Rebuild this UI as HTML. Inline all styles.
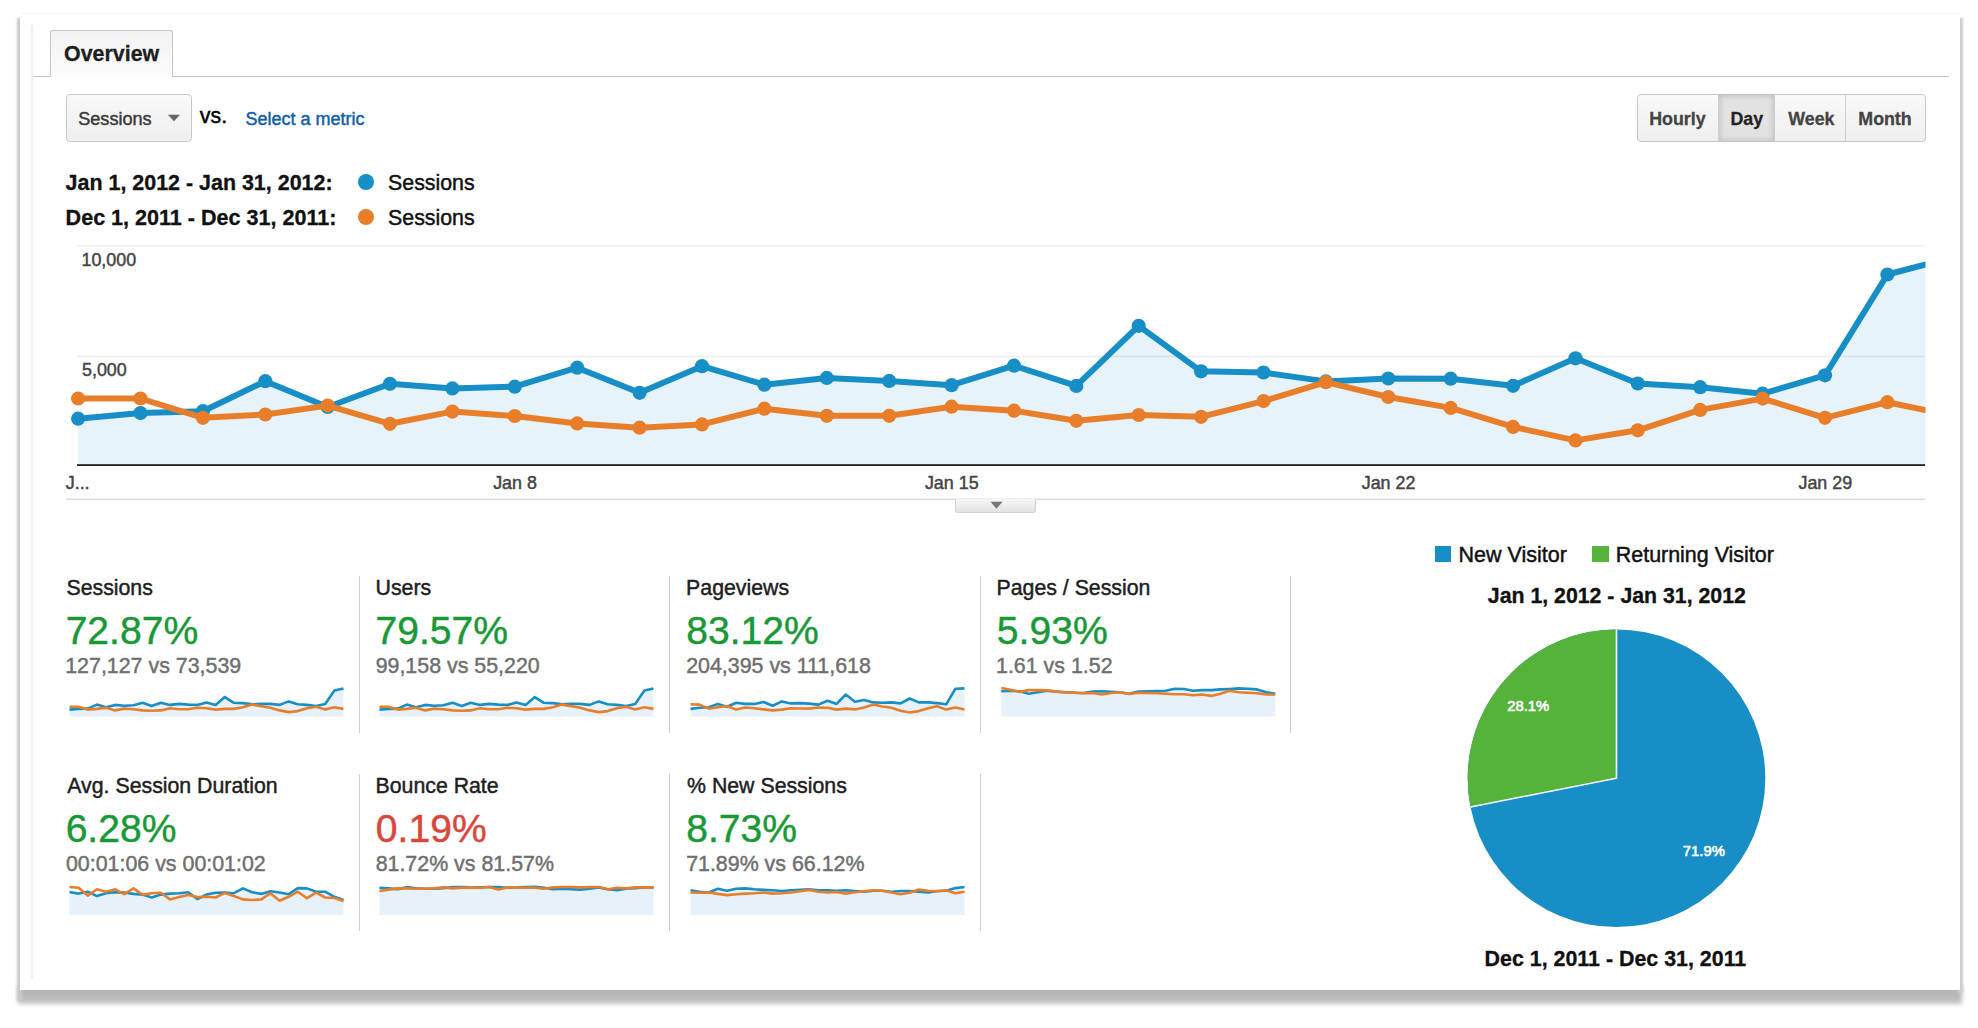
<!DOCTYPE html>
<html><head><meta charset="utf-8"><title>Overview</title><style>
*{margin:0;padding:0;box-sizing:border-box}
html,body{width:1978px;height:1028px;background:#fff;overflow:hidden;position:relative;font-family:"Liberation Sans",sans-serif}
.tx{position:absolute;left:0;top:0;font-family:"Liberation Sans",sans-serif}
#frame{position:absolute;left:20px;top:13px;width:1940px;height:977px;background:#fff;border-top:1px solid #f7f7f7}
#shB{position:absolute;left:18px;top:986px;width:1944px;height:17.5px;background:linear-gradient(#b4b4b4,#b9b9b9 60%,#c4c4c4);filter:blur(1.9px)}
#shL{position:absolute;left:17px;top:18px;width:5px;height:983px;background:#c9c9c9;filter:blur(1.2px)}
#shR{position:absolute;left:1958px;top:18px;width:5px;height:975px;background:#cdcdcd;filter:blur(1.2px)}
#tab{position:absolute;left:50px;top:30px;width:123px;height:47px;border:1px solid #c6c6c6;border-bottom:none;border-radius:3px 3px 0 0;background:linear-gradient(#f3f3f3,#fcfcfc)}
#dd{position:absolute;left:66px;top:94px;width:126px;height:47.5px;border:1px solid #c8c8c8;border-radius:4px;background:linear-gradient(#f9f9f9,#efefef)}
#btns{position:absolute;left:1636.5px;top:93.6px;width:289px;height:48px;border:1px solid #c6c6c6;border-radius:4px;display:flex;overflow:hidden;background:linear-gradient(#f9f9f9,#efefef)}
#btns .b{height:100%;border-right:1px solid #cfcfcf}
#btns .b.on{background:#e2e2e2;box-shadow:inset 0 0 6px rgba(0,0,0,.2)}
.dot{position:absolute;width:16.4px;height:16.4px;border-radius:50%}
#handle{position:absolute;left:955px;top:499px;width:80.5px;height:13.5px;border:1px solid #d2d2d2;border-top:none;border-radius:0 0 3px 3px;background:linear-gradient(#f6f6f6,#e4e4e4)}
</style></head>
<body>
<div id="shB"></div><div id="shL"></div><div id="shR"></div><div id="frame"></div>
<div style="position:absolute;left:31.2px;top:25px;width:2px;height:953px;background:#f0f0f0"></div>
<div style="position:absolute;left:33px;top:76px;width:1916px;height:1px;background:#c6c6c6"></div>
<div id="tab"></div>
<div id="dd"></div>
<svg style="position:absolute;left:167px;top:114px" width="14" height="9"><path d="M0.9 0.8 L13.0 0.8 L6.95 7.3 Z" fill="#666"/></svg>
<div id="btns"><div class="b" style="width:81px">&nbsp;</div><div class="b on" style="width:56px"></div><div class="b" style="width:71px"></div><div class="b" style="width:78px;border-right:none"></div></div>
<div class="dot" style="left:358px;top:173.5px;background:#188ec7"></div>
<div class="dot" style="left:358px;top:209px;background:#e97e2a"></div>
<svg style="position:absolute;left:0;top:0" width="1978" height="1028">
<defs><clipPath id="cc"><rect x="66" y="240" width="1859.5" height="226"/></clipPath></defs>
<g clip-path="url(#cc)">
<polygon points="78.1,465 78.1,418.7 140.5,413.1 202.9,411.2 265.3,381.2 327.7,407.0 390.0,383.8 452.4,388.4 514.8,386.7 577.2,367.7 639.6,392.8 702.0,366.2 764.4,384.7 826.8,377.9 889.2,380.9 951.6,385.2 1014.0,365.7 1076.3,385.9 1138.7,325.8 1201.1,371.3 1263.5,372.5 1325.9,381.4 1388.3,378.5 1450.7,378.7 1513.1,385.8 1575.5,358.3 1637.8,383.5 1700.2,387.2 1762.6,393.7 1825.0,375.3 1887.4,274.5 1949.8,258.2 1949.8,465" fill="#e6f3fa"/>
</g>
<rect x="77" y="245.2" width="1848" height="1.4" fill="#000" fill-opacity="0.065"/>
<rect x="77" y="355.8" width="1848" height="1.4" fill="#000" fill-opacity="0.075"/>
<g clip-path="url(#cc)">
<polyline points="78.1,418.7 140.5,413.1 202.9,411.2 265.3,381.2 327.7,407.0 390.0,383.8 452.4,388.4 514.8,386.7 577.2,367.7 639.6,392.8 702.0,366.2 764.4,384.7 826.8,377.9 889.2,380.9 951.6,385.2 1014.0,365.7 1076.3,385.9 1138.7,325.8 1201.1,371.3 1263.5,372.5 1325.9,381.4 1388.3,378.5 1450.7,378.7 1513.1,385.8 1575.5,358.3 1637.8,383.5 1700.2,387.2 1762.6,393.7 1825.0,375.3 1887.4,274.5 1949.8,258.2" fill="none" stroke="#188ec7" stroke-width="6" stroke-linejoin="round"/>
<circle cx="78.1" cy="418.7" r="7.1" fill="#188ec7"/>
<circle cx="140.5" cy="413.1" r="7.1" fill="#188ec7"/>
<circle cx="202.9" cy="411.2" r="7.1" fill="#188ec7"/>
<circle cx="265.3" cy="381.2" r="7.1" fill="#188ec7"/>
<circle cx="327.7" cy="407.0" r="7.1" fill="#188ec7"/>
<circle cx="390.0" cy="383.8" r="7.1" fill="#188ec7"/>
<circle cx="452.4" cy="388.4" r="7.1" fill="#188ec7"/>
<circle cx="514.8" cy="386.7" r="7.1" fill="#188ec7"/>
<circle cx="577.2" cy="367.7" r="7.1" fill="#188ec7"/>
<circle cx="639.6" cy="392.8" r="7.1" fill="#188ec7"/>
<circle cx="702.0" cy="366.2" r="7.1" fill="#188ec7"/>
<circle cx="764.4" cy="384.7" r="7.1" fill="#188ec7"/>
<circle cx="826.8" cy="377.9" r="7.1" fill="#188ec7"/>
<circle cx="889.2" cy="380.9" r="7.1" fill="#188ec7"/>
<circle cx="951.6" cy="385.2" r="7.1" fill="#188ec7"/>
<circle cx="1014.0" cy="365.7" r="7.1" fill="#188ec7"/>
<circle cx="1076.3" cy="385.9" r="7.1" fill="#188ec7"/>
<circle cx="1138.7" cy="325.8" r="7.1" fill="#188ec7"/>
<circle cx="1201.1" cy="371.3" r="7.1" fill="#188ec7"/>
<circle cx="1263.5" cy="372.5" r="7.1" fill="#188ec7"/>
<circle cx="1325.9" cy="381.4" r="7.1" fill="#188ec7"/>
<circle cx="1388.3" cy="378.5" r="7.1" fill="#188ec7"/>
<circle cx="1450.7" cy="378.7" r="7.1" fill="#188ec7"/>
<circle cx="1513.1" cy="385.8" r="7.1" fill="#188ec7"/>
<circle cx="1575.5" cy="358.3" r="7.1" fill="#188ec7"/>
<circle cx="1637.8" cy="383.5" r="7.1" fill="#188ec7"/>
<circle cx="1700.2" cy="387.2" r="7.1" fill="#188ec7"/>
<circle cx="1762.6" cy="393.7" r="7.1" fill="#188ec7"/>
<circle cx="1825.0" cy="375.3" r="7.1" fill="#188ec7"/>
<circle cx="1887.4" cy="274.5" r="7.1" fill="#188ec7"/>
<circle cx="1949.8" cy="258.2" r="7.1" fill="#188ec7"/>
<polyline points="78.1,398.5 140.5,398.5 202.9,417.8 265.3,414.5 327.7,405.6 390.0,423.8 452.4,411.6 514.8,416.0 577.2,423.4 639.6,427.7 702.0,424.4 764.4,408.7 826.8,415.8 889.2,415.8 951.6,406.7 1014.0,410.7 1076.3,420.8 1138.7,415.0 1201.1,416.8 1263.5,401.1 1325.9,382.2 1388.3,397.0 1450.7,407.9 1513.1,426.9 1575.5,440.4 1637.8,430.3 1700.2,409.9 1762.6,398.6 1825.0,417.8 1887.4,402.2 1949.8,415.2" fill="none" stroke="#e97e2a" stroke-width="6" stroke-linejoin="round"/>
<circle cx="78.1" cy="398.5" r="7.1" fill="#e97e2a"/>
<circle cx="140.5" cy="398.5" r="7.1" fill="#e97e2a"/>
<circle cx="202.9" cy="417.8" r="7.1" fill="#e97e2a"/>
<circle cx="265.3" cy="414.5" r="7.1" fill="#e97e2a"/>
<circle cx="327.7" cy="405.6" r="7.1" fill="#e97e2a"/>
<circle cx="390.0" cy="423.8" r="7.1" fill="#e97e2a"/>
<circle cx="452.4" cy="411.6" r="7.1" fill="#e97e2a"/>
<circle cx="514.8" cy="416.0" r="7.1" fill="#e97e2a"/>
<circle cx="577.2" cy="423.4" r="7.1" fill="#e97e2a"/>
<circle cx="639.6" cy="427.7" r="7.1" fill="#e97e2a"/>
<circle cx="702.0" cy="424.4" r="7.1" fill="#e97e2a"/>
<circle cx="764.4" cy="408.7" r="7.1" fill="#e97e2a"/>
<circle cx="826.8" cy="415.8" r="7.1" fill="#e97e2a"/>
<circle cx="889.2" cy="415.8" r="7.1" fill="#e97e2a"/>
<circle cx="951.6" cy="406.7" r="7.1" fill="#e97e2a"/>
<circle cx="1014.0" cy="410.7" r="7.1" fill="#e97e2a"/>
<circle cx="1076.3" cy="420.8" r="7.1" fill="#e97e2a"/>
<circle cx="1138.7" cy="415.0" r="7.1" fill="#e97e2a"/>
<circle cx="1201.1" cy="416.8" r="7.1" fill="#e97e2a"/>
<circle cx="1263.5" cy="401.1" r="7.1" fill="#e97e2a"/>
<circle cx="1325.9" cy="382.2" r="7.1" fill="#e97e2a"/>
<circle cx="1388.3" cy="397.0" r="7.1" fill="#e97e2a"/>
<circle cx="1450.7" cy="407.9" r="7.1" fill="#e97e2a"/>
<circle cx="1513.1" cy="426.9" r="7.1" fill="#e97e2a"/>
<circle cx="1575.5" cy="440.4" r="7.1" fill="#e97e2a"/>
<circle cx="1637.8" cy="430.3" r="7.1" fill="#e97e2a"/>
<circle cx="1700.2" cy="409.9" r="7.1" fill="#e97e2a"/>
<circle cx="1762.6" cy="398.6" r="7.1" fill="#e97e2a"/>
<circle cx="1825.0" cy="417.8" r="7.1" fill="#e97e2a"/>
<circle cx="1887.4" cy="402.2" r="7.1" fill="#e97e2a"/>
<circle cx="1949.8" cy="415.2" r="7.1" fill="#e97e2a"/>
</g>
<rect x="77" y="464.2" width="1848" height="1.8" fill="#222"/>
<rect x="66" y="498.6" width="1859" height="1.2" fill="#d4d4d4"/>
</svg>
<div id="handle"></div>
<svg style="position:absolute;left:990px;top:501px" width="14" height="9"><path d="M0.5 0.8 L12.5 0.8 L6.5 7.8 Z" fill="#777"/></svg>
<div style="position:absolute;left:358.7px;top:575.6px;width:1.2px;height:157px;background:#cfcfcf"></div>
<div style="position:absolute;left:669.2px;top:575.6px;width:1.2px;height:157px;background:#cfcfcf"></div>
<div style="position:absolute;left:979.7px;top:575.6px;width:1.2px;height:157px;background:#cfcfcf"></div>
<div style="position:absolute;left:1290.0px;top:575.6px;width:1.2px;height:157px;background:#cfcfcf"></div>
<div style="position:absolute;left:358.7px;top:774.2px;width:1.2px;height:157px;background:#cfcfcf"></div>
<div style="position:absolute;left:669.2px;top:774.2px;width:1.2px;height:157px;background:#cfcfcf"></div>
<div style="position:absolute;left:979.7px;top:774.2px;width:1.2px;height:157px;background:#cfcfcf"></div>
<svg style="position:absolute;left:0;top:0;filter:blur(0.35px)" width="1978" height="1028">
<polygon points="69.5,716.6 69.5,709.6 78.6,708.9 87.8,708.6 96.9,704.6 106.0,707.2 115.2,704.9 124.3,705.7 133.4,705.3 142.6,702.8 151.7,706.0 160.8,702.8 170.0,704.9 179.1,703.9 188.2,704.6 197.4,704.9 206.5,702.4 215.6,704.9 224.8,697.1 233.9,702.8 243.0,703.1 252.2,704.3 261.3,703.9 270.4,703.9 279.6,704.9 288.7,701.4 297.8,704.3 307.0,704.9 316.1,706.0 325.2,703.9 334.4,690.4 343.5,688.4 343.5,716.6" fill="#e6f1f9"/>
<polyline points="69.5,709.6 78.6,708.9 87.8,708.6 96.9,704.6 106.0,707.2 115.2,704.9 124.3,705.7 133.4,705.3 142.6,702.8 151.7,706.0 160.8,702.8 170.0,704.9 179.1,703.9 188.2,704.6 197.4,704.9 206.5,702.4 215.6,704.9 224.8,697.1 233.9,702.8 243.0,703.1 252.2,704.3 261.3,703.9 270.4,703.9 279.6,704.9 288.7,701.4 297.8,704.3 307.0,704.9 316.1,706.0 325.2,703.9 334.4,690.4 343.5,688.4" fill="none" stroke="#188ec7" stroke-width="2.6" stroke-linejoin="round"/>
<polyline points="69.5,706.7 78.6,706.7 87.8,709.6 96.9,708.9 106.0,707.8 115.2,710.4 124.3,708.6 133.4,709.2 142.6,710.4 151.7,710.8 160.8,710.4 170.0,708.2 179.1,709.2 188.2,709.2 197.4,707.8 206.5,708.2 215.6,709.6 224.8,708.9 233.9,708.9 243.0,707.2 252.2,704.6 261.3,706.3 270.4,707.8 279.6,710.4 288.7,712.1 297.8,711.1 307.0,708.2 316.1,706.7 325.2,709.6 334.4,707.2 343.5,708.9" fill="none" stroke="#e97e2a" stroke-width="2.6" stroke-linejoin="round"/>
<polygon points="379.5,716.6 379.5,709.6 388.6,708.9 397.8,708.6 406.9,704.6 416.0,707.2 425.2,704.9 434.3,705.7 443.4,705.3 452.6,702.8 461.7,706.0 470.8,702.8 480.0,704.9 489.1,703.9 498.2,704.6 507.4,704.9 516.5,702.4 525.6,704.9 534.8,697.1 543.9,702.8 553.0,703.1 562.2,704.3 571.3,703.9 580.4,703.9 589.6,704.9 598.7,701.4 607.8,704.3 617.0,704.9 626.1,706.0 635.2,703.9 644.4,690.4 653.5,688.4 653.5,716.6" fill="#e6f1f9"/>
<polyline points="379.5,709.6 388.6,708.9 397.8,708.6 406.9,704.6 416.0,707.2 425.2,704.9 434.3,705.7 443.4,705.3 452.6,702.8 461.7,706.0 470.8,702.8 480.0,704.9 489.1,703.9 498.2,704.6 507.4,704.9 516.5,702.4 525.6,704.9 534.8,697.1 543.9,702.8 553.0,703.1 562.2,704.3 571.3,703.9 580.4,703.9 589.6,704.9 598.7,701.4 607.8,704.3 617.0,704.9 626.1,706.0 635.2,703.9 644.4,690.4 653.5,688.4" fill="none" stroke="#188ec7" stroke-width="2.6" stroke-linejoin="round"/>
<polyline points="379.5,706.7 388.6,706.7 397.8,709.6 406.9,708.9 416.0,707.8 425.2,710.4 434.3,708.6 443.4,709.2 452.6,710.4 461.7,710.8 470.8,710.4 480.0,708.2 489.1,709.2 498.2,709.2 507.4,707.8 516.5,708.2 525.6,709.6 534.8,708.9 543.9,708.9 553.0,707.2 562.2,704.6 571.3,706.3 580.4,707.8 589.6,710.4 598.7,712.1 607.8,711.1 617.0,708.2 626.1,706.7 635.2,709.6 644.4,707.2 653.5,708.9" fill="none" stroke="#e97e2a" stroke-width="2.6" stroke-linejoin="round"/>
<polygon points="690.5,716.6 690.5,708.9 699.6,707.8 708.8,707.2 717.9,703.9 727.0,706.7 736.2,702.8 745.3,703.9 754.4,703.9 763.6,702.0 772.7,705.7 781.8,701.4 791.0,703.4 800.1,703.1 809.2,703.6 818.4,704.6 827.5,700.7 836.6,703.9 845.8,694.5 854.9,701.7 864.0,700.0 873.2,702.4 882.3,702.7 891.4,702.4 900.6,703.4 909.7,698.5 918.8,702.4 928.0,702.4 937.1,703.1 946.2,704.3 955.4,688.7 964.5,688.4 964.5,716.6" fill="#e6f1f9"/>
<polyline points="690.5,708.9 699.6,707.8 708.8,707.2 717.9,703.9 727.0,706.7 736.2,702.8 745.3,703.9 754.4,703.9 763.6,702.0 772.7,705.7 781.8,701.4 791.0,703.4 800.1,703.1 809.2,703.6 818.4,704.6 827.5,700.7 836.6,703.9 845.8,694.5 854.9,701.7 864.0,700.0 873.2,702.4 882.3,702.7 891.4,702.4 900.6,703.4 909.7,698.5 918.8,702.4 928.0,702.4 937.1,703.1 946.2,704.3 955.4,688.7 964.5,688.4" fill="none" stroke="#188ec7" stroke-width="2.6" stroke-linejoin="round"/>
<polyline points="690.5,704.3 699.6,704.6 708.8,708.6 717.9,707.2 727.0,706.0 736.2,709.6 745.3,707.5 754.4,708.2 763.6,709.4 772.7,710.4 781.8,709.6 791.0,708.2 800.1,708.5 809.2,708.6 818.4,707.5 827.5,707.8 836.6,709.6 845.8,708.6 854.9,709.4 864.0,707.5 873.2,704.6 882.3,706.5 891.4,707.8 900.6,710.7 909.7,712.5 918.8,711.1 928.0,708.2 937.1,706.3 946.2,709.6 955.4,707.5 964.5,709.4" fill="none" stroke="#e97e2a" stroke-width="2.6" stroke-linejoin="round"/>
<polygon points="1001.3,716.6 1001.3,691.3 1010.4,690.8 1019.6,691.3 1028.7,693.7 1037.8,692.3 1047.0,690.8 1056.1,691.6 1065.2,692.3 1074.4,692.7 1083.5,693.0 1092.6,691.6 1101.8,691.3 1110.9,691.9 1120.0,692.3 1129.2,693.7 1138.3,691.6 1147.4,691.3 1156.6,691.1 1165.7,690.8 1174.8,688.7 1184.0,689.0 1193.1,690.8 1202.2,690.1 1211.4,690.1 1220.5,689.4 1229.6,689.0 1238.8,688.4 1247.9,688.7 1257.0,689.4 1266.2,692.3 1275.3,693.7 1275.3,716.6" fill="#e6f1f9"/>
<polyline points="1001.3,691.3 1010.4,690.8 1019.6,691.3 1028.7,693.7 1037.8,692.3 1047.0,690.8 1056.1,691.6 1065.2,692.3 1074.4,692.7 1083.5,693.0 1092.6,691.6 1101.8,691.3 1110.9,691.9 1120.0,692.3 1129.2,693.7 1138.3,691.6 1147.4,691.3 1156.6,691.1 1165.7,690.8 1174.8,688.7 1184.0,689.0 1193.1,690.8 1202.2,690.1 1211.4,690.1 1220.5,689.4 1229.6,689.0 1238.8,688.4 1247.9,688.7 1257.0,689.4 1266.2,692.3 1275.3,693.7" fill="none" stroke="#188ec7" stroke-width="2.6" stroke-linejoin="round"/>
<polyline points="1001.3,688.0 1010.4,689.8 1019.6,691.9 1028.7,690.1 1037.8,690.1 1047.0,690.4 1056.1,691.6 1065.2,692.3 1074.4,692.7 1083.5,693.3 1092.6,693.0 1101.8,694.5 1110.9,693.0 1120.0,692.3 1129.2,694.0 1138.3,692.7 1147.4,693.0 1156.6,693.3 1165.7,693.7 1174.8,694.2 1184.0,694.2 1193.1,695.2 1202.2,694.5 1211.4,695.9 1220.5,693.7 1229.6,690.8 1238.8,692.3 1247.9,692.7 1257.0,693.3 1266.2,694.5 1275.3,694.5" fill="none" stroke="#e97e2a" stroke-width="2.6" stroke-linejoin="round"/>
<polygon points="69.5,915.0 69.5,892.0 78.6,893.6 87.8,891.7 96.9,896.1 106.0,893.2 115.2,892.2 124.3,892.5 133.4,893.9 142.6,894.6 151.7,897.5 160.8,894.6 170.0,893.6 179.1,893.2 188.2,892.2 197.4,899.0 206.5,894.6 215.6,892.7 224.8,892.5 233.9,893.2 243.0,888.4 252.2,892.2 261.3,893.9 270.4,891.3 279.6,892.5 288.7,894.2 297.8,888.1 307.0,888.4 316.1,891.7 325.2,891.7 334.4,896.8 343.5,900.0 343.5,915.0" fill="#e6f1f9"/>
<polyline points="69.5,892.0 78.6,893.6 87.8,891.7 96.9,896.1 106.0,893.2 115.2,892.2 124.3,892.5 133.4,893.9 142.6,894.6 151.7,897.5 160.8,894.6 170.0,893.6 179.1,893.2 188.2,892.2 197.4,899.0 206.5,894.6 215.6,892.7 224.8,892.5 233.9,893.2 243.0,888.4 252.2,892.2 261.3,893.9 270.4,891.3 279.6,892.5 288.7,894.2 297.8,888.1 307.0,888.4 316.1,891.7 325.2,891.7 334.4,896.8 343.5,900.0" fill="none" stroke="#188ec7" stroke-width="2.6" stroke-linejoin="round"/>
<polyline points="69.5,887.0 78.6,887.8 87.8,895.6 96.9,889.3 106.0,891.7 115.2,889.3 124.3,894.2 133.4,888.4 142.6,894.6 151.7,893.2 160.8,892.7 170.0,899.4 179.1,897.1 188.2,895.1 197.4,897.1 206.5,896.8 215.6,897.5 224.8,892.9 233.9,896.1 243.0,899.4 252.2,900.0 261.3,899.4 270.4,893.2 279.6,900.8 288.7,896.8 297.8,891.7 307.0,898.2 316.1,892.7 325.2,897.5 334.4,898.0 343.5,901.1" fill="none" stroke="#e97e2a" stroke-width="2.6" stroke-linejoin="round"/>
<polygon points="379.5,915.0 379.5,887.8 388.6,888.4 397.8,889.3 406.9,887.0 416.0,888.4 425.2,888.8 434.3,888.8 443.4,888.1 452.6,887.0 461.7,887.0 470.8,887.4 480.0,887.4 489.1,887.0 498.2,887.0 507.4,887.8 516.5,887.4 525.6,887.0 534.8,886.7 543.9,887.8 553.0,889.3 562.2,888.8 571.3,889.3 580.4,889.6 589.6,888.8 598.7,887.4 607.8,889.3 617.0,890.3 626.1,888.8 635.2,888.1 644.4,887.4 653.5,887.4 653.5,915.0" fill="#e6f1f9"/>
<polyline points="379.5,887.8 388.6,888.4 397.8,889.3 406.9,887.0 416.0,888.4 425.2,888.8 434.3,888.8 443.4,888.1 452.6,887.0 461.7,887.0 470.8,887.4 480.0,887.4 489.1,887.0 498.2,887.0 507.4,887.8 516.5,887.4 525.6,887.0 534.8,886.7 543.9,887.8 553.0,889.3 562.2,888.8 571.3,889.3 580.4,889.6 589.6,888.8 598.7,887.4 607.8,889.3 617.0,890.3 626.1,888.8 635.2,888.1 644.4,887.4 653.5,887.4" fill="none" stroke="#188ec7" stroke-width="2.6" stroke-linejoin="round"/>
<polyline points="379.5,891.0 388.6,889.6 397.8,888.4 406.9,888.4 416.0,888.8 425.2,888.8 434.3,888.4 443.4,887.4 452.6,888.4 461.7,887.7 470.8,887.4 480.0,887.8 489.1,887.0 498.2,889.6 507.4,887.4 516.5,887.4 525.6,887.7 534.8,887.8 543.9,888.8 553.0,887.4 562.2,887.0 571.3,887.0 580.4,887.4 589.6,887.0 598.7,887.0 607.8,889.3 617.0,887.8 626.1,888.4 635.2,887.4 644.4,887.4 653.5,887.4" fill="none" stroke="#e97e2a" stroke-width="2.6" stroke-linejoin="round"/>
<polygon points="690.5,915.0 690.5,890.3 699.6,891.7 708.8,892.5 717.9,888.8 727.0,890.7 736.2,888.8 745.3,888.4 754.4,889.3 763.6,889.9 772.7,890.3 781.8,891.0 791.0,890.3 800.1,889.9 809.2,889.3 818.4,890.3 827.5,890.3 836.6,890.7 845.8,890.3 854.9,891.0 864.0,891.7 873.2,890.7 882.3,890.7 891.4,891.7 900.6,891.0 909.7,891.0 918.8,891.7 928.0,892.5 937.1,891.0 946.2,890.7 955.4,888.1 964.5,887.0 964.5,915.0" fill="#e6f1f9"/>
<polyline points="690.5,890.3 699.6,891.7 708.8,892.5 717.9,888.8 727.0,890.7 736.2,888.8 745.3,888.4 754.4,889.3 763.6,889.9 772.7,890.3 781.8,891.0 791.0,890.3 800.1,889.9 809.2,889.3 818.4,890.3 827.5,890.3 836.6,890.7 845.8,890.3 854.9,891.0 864.0,891.7 873.2,890.7 882.3,890.7 891.4,891.7 900.6,891.0 909.7,891.0 918.8,891.7 928.0,892.5 937.1,891.0 946.2,890.7 955.4,888.1 964.5,887.0" fill="none" stroke="#188ec7" stroke-width="2.6" stroke-linejoin="round"/>
<polyline points="690.5,892.5 699.6,892.7 708.8,892.5 717.9,893.9 727.0,895.1 736.2,894.2 745.3,893.6 754.4,893.2 763.6,892.5 772.7,893.6 781.8,893.2 791.0,892.5 800.1,891.3 809.2,889.9 818.4,891.7 827.5,892.5 836.6,892.0 845.8,893.6 854.9,892.2 864.0,891.3 873.2,890.3 882.3,890.7 891.4,892.5 900.6,894.2 909.7,892.7 918.8,889.6 928.0,890.7 937.1,891.3 946.2,890.3 955.4,893.2 964.5,891.7" fill="none" stroke="#e97e2a" stroke-width="2.6" stroke-linejoin="round"/>
</svg>
<div style="position:absolute;left:1434.8px;top:546.3px;width:16px;height:15.5px;background:#188ec7"></div>
<div style="position:absolute;left:1592.3px;top:546.3px;width:16.4px;height:15.5px;background:#55b33c"></div>
<svg style="position:absolute;left:0;top:0" width="1978" height="1028">
<circle cx="1616.5" cy="778.2" r="148.8" fill="#188ec7"/>
<path d="M1616.5,778.2 L1616.5,629.4000000000001 A148.8,148.8 0 0,0 1470.51,807.00 Z" fill="#55b33c"/>
<path d="M1470.51,807.00 L1616.5,778.2 L1616.5,629.4000000000001" fill="none" stroke="#fff" stroke-width="1.6"/>
</svg>
<svg class="tx" width="1978" height="1028"><text x="64.04" y="61.00" font-size="21.4" font-weight="700" fill="#1e1e1e" stroke="#1e1e1e" stroke-width="0.3">Overview</text>
<text x="78.24" y="124.90" font-size="18.1" fill="#3a3a3a" stroke="#3a3a3a" stroke-width="0.45">Sessions</text>
<text x="199.79" y="123.00" font-size="21.4" fill="#000" stroke="#000" stroke-width="0.45">vs.</text>
<text x="245.39" y="124.90" font-size="18.0" fill="#0f5ea7" stroke="#0f5ea7" stroke-width="0.45">Select a metric</text>
<text x="1649.24" y="124.60" font-size="17.8" font-weight="700" fill="#444" stroke="#444" stroke-width="0.3">Hourly</text>
<text x="1730.54" y="124.60" font-size="17.8" font-weight="700" fill="#222" stroke="#222" stroke-width="0.3">Day</text>
<text x="1788.30" y="124.60" font-size="17.8" font-weight="700" fill="#444" stroke="#444" stroke-width="0.3">Week</text>
<text x="1858.34" y="124.60" font-size="17.8" font-weight="700" fill="#444" stroke="#444" stroke-width="0.3">Month</text>
<text x="65.58" y="189.60" font-size="21.45" font-weight="700" fill="#111" stroke="#111" stroke-width="0.3">Jan 1, 2012 - Jan 31, 2012:</text>
<text x="65.60" y="224.80" font-size="21.55" font-weight="700" fill="#111" stroke="#111" stroke-width="0.3">Dec 1, 2011 - Dec 31, 2011:</text>
<text x="388.04" y="189.60" font-size="21.35" fill="#111" stroke="#111" stroke-width="0.45">Sessions</text>
<text x="388.04" y="224.80" font-size="21.35" fill="#111" stroke="#111" stroke-width="0.45">Sessions</text>
<text x="81.46" y="265.80" font-size="17.9" fill="#444" stroke="#444" stroke-width="0.45">10,000</text>
<text x="81.98" y="375.60" font-size="17.9" fill="#444" stroke="#444" stroke-width="0.45">5,000</text>
<text x="65.73" y="488.60" font-size="17.9" fill="#444" stroke="#444" stroke-width="0.45">J...</text>
<text x="493.17" y="488.60" font-size="17.9" fill="#444" stroke="#444" stroke-width="0.45">Jan 8</text>
<text x="924.93" y="488.60" font-size="17.9" fill="#444" stroke="#444" stroke-width="0.45">Jan 15</text>
<text x="1361.71" y="488.60" font-size="17.9" fill="#444" stroke="#444" stroke-width="0.45">Jan 22</text>
<text x="1798.44" y="488.60" font-size="17.9" fill="#444" stroke="#444" stroke-width="0.45">Jan 29</text>
<text x="66.44" y="595.10" font-size="21.3" fill="#1e1e1e" stroke="#1e1e1e" stroke-width="0.45">Sessions</text>
<text x="65.64" y="644.10" font-size="39.1" fill="#189936" stroke="#189936" stroke-width="0.45">72.87%</text>
<text x="65.19" y="673.30" font-size="21.4" fill="#6f6f6f" stroke="#6f6f6f" stroke-width="0.45">127,127 vs 73,539</text>
<text x="375.60" y="595.10" font-size="21.3" fill="#1e1e1e" stroke="#1e1e1e" stroke-width="0.45">Users</text>
<text x="375.45" y="644.10" font-size="39.1" fill="#189936" stroke="#189936" stroke-width="0.45">79.57%</text>
<text x="375.64" y="673.30" font-size="21.4" fill="#6f6f6f" stroke="#6f6f6f" stroke-width="0.45">99,158 vs 55,220</text>
<text x="686.10" y="595.10" font-size="21.3" fill="#1e1e1e" stroke="#1e1e1e" stroke-width="0.45">Pageviews</text>
<text x="686.24" y="644.10" font-size="39.1" fill="#189936" stroke="#189936" stroke-width="0.45">83.12%</text>
<text x="686.13" y="673.30" font-size="21.4" fill="#6f6f6f" stroke="#6f6f6f" stroke-width="0.45">204,395 vs 111,618</text>
<text x="996.50" y="595.10" font-size="21.3" fill="#1e1e1e" stroke="#1e1e1e" stroke-width="0.45">Pages / Session</text>
<text x="996.84" y="644.10" font-size="39.1" fill="#189936" stroke="#189936" stroke-width="0.45">5.93%</text>
<text x="996.00" y="673.30" font-size="21.4" fill="#6f6f6f" stroke="#6f6f6f" stroke-width="0.45">1.61 vs 1.52</text>
<text x="67.29" y="793.10" font-size="21.3" fill="#1e1e1e" stroke="#1e1e1e" stroke-width="0.45">Avg. Session Duration</text>
<text x="65.64" y="842.10" font-size="39.1" fill="#189936" stroke="#189936" stroke-width="0.45">6.28%</text>
<text x="65.94" y="871.30" font-size="21.4" fill="#6f6f6f" stroke="#6f6f6f" stroke-width="0.45">00:01:06 vs 00:01:02</text>
<text x="375.50" y="793.10" font-size="21.3" fill="#1e1e1e" stroke="#1e1e1e" stroke-width="0.45">Bounce Rate</text>
<text x="375.84" y="842.10" font-size="39.1" fill="#d9473a" stroke="#d9473a" stroke-width="0.45">0.19%</text>
<text x="375.64" y="871.30" font-size="21.4" fill="#6f6f6f" stroke="#6f6f6f" stroke-width="0.45">81.72% vs 81.57%</text>
<text x="687.05" y="793.10" font-size="21.3" fill="#1e1e1e" stroke="#1e1e1e" stroke-width="0.45">% New Sessions</text>
<text x="686.24" y="842.10" font-size="39.1" fill="#189936" stroke="#189936" stroke-width="0.45">8.73%</text>
<text x="686.13" y="871.30" font-size="21.4" fill="#6f6f6f" stroke="#6f6f6f" stroke-width="0.45">71.89% vs 66.12%</text>
<text x="1458.58" y="561.70" font-size="21.5" fill="#111" stroke="#111" stroke-width="0.45">New Visitor</text>
<text x="1615.78" y="561.70" font-size="21.45" fill="#111" stroke="#111" stroke-width="0.45">Returning Visitor</text>
<text x="1487.79" y="602.60" font-size="21.3" font-weight="700" fill="#111" stroke="#111" stroke-width="0.3">Jan 1, 2012 - Jan 31, 2012</text>
<text x="1484.61" y="965.60" font-size="21.4" font-weight="700" fill="#111" stroke="#111" stroke-width="0.3">Dec 1, 2011 - Dec 31, 2011</text>
<text x="1507.16" y="711.00" font-size="14.84" fill="#fff" stroke="#fff" stroke-width="0.6">28.1%</text>
<text x="1682.86" y="856.00" font-size="14.8" fill="#fff" stroke="#fff" stroke-width="0.6">71.9%</text></svg>
</body></html>
